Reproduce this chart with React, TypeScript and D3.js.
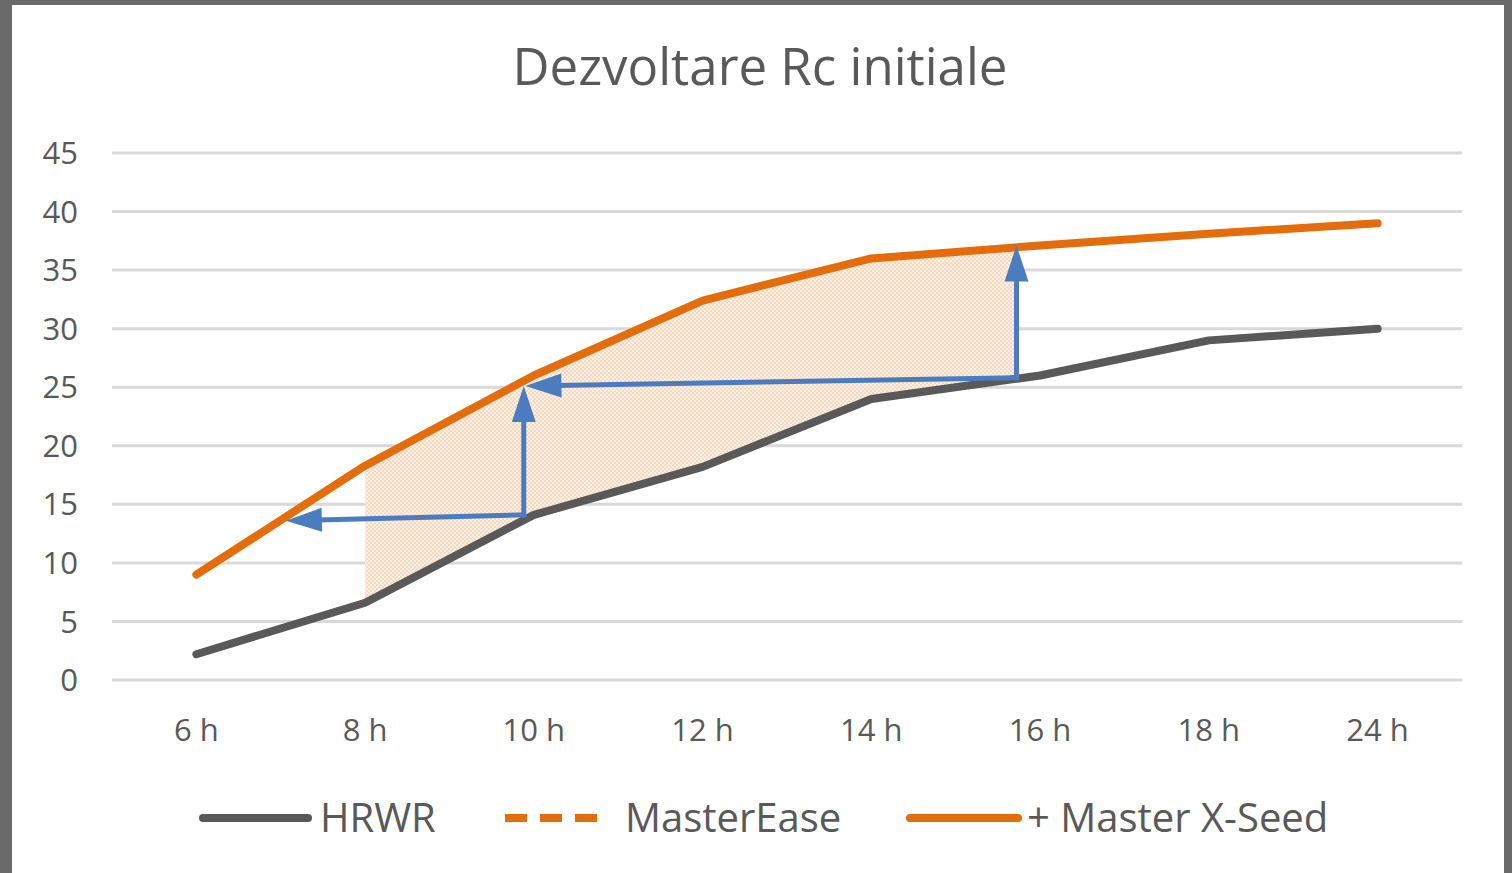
import React from 'react';
import * as d3 from 'd3';

// values
const categories = ['6 h', '8 h', '10 h', '12 h', '14 h', '16 h', '18 h', '24 h'];
const hrwr = [2.2, 6.6, 14.1, 18.2, 24.0, 26.0, 29.0, 30.0];
const xseed = [9.0, 18.3, 26.0, 32.4, 36.0, 37.1, 38.1, 39.0];
const yTicks = [0, 5, 10, 15, 20, 25, 30, 35, 40, 45];

// shaded band between the two curves, in category-index units
const bandStart = 1;
const bandEnd = 4.86;

// blue annotation arrows: [fromIndex, fromValue, toIndex, toValue]
const arrows = [
  [1.94, 14.1, 0.53, 13.6],
  [1.94, 14.1, 1.94, 25.1],
  [4.86, 25.8, 1.95, 25.1],
  [4.86, 25.8, 4.86, 37.1],
];

const legendItems = [
  { label: 'HRWR', color: '#595959', dash: '' },
  { label: 'MasterEase', color: '#e46c0a', dash: '22 13' },
  { label: '+ Master X-Seed', color: '#e46c0a', dash: '' },
];

const W = 1512;
const H = 873;
const FONT = '"Open Sans", "Noto Sans", sans-serif';
const TEXT = '#595959';
const BLUE = '#4a7cbf';

// linear interpolation along a series at a fractional index
const valueAt = (s, t) => {
  const i = Math.min(Math.floor(t), s.length - 2);
  return s[i] + (s[i + 1] - s[i]) * (t - i);
};

export default function App() {
  const x = d3.scalePoint().domain(categories).range([112, 1462]).padding(0.5);
  const xi = d3.scaleLinear().domain([0, categories.length - 1])
    .range([x(categories[0]), x(categories[categories.length - 1])]);
  const y = d3.scaleLinear().domain([0, 45]).range([680, 153]);

  const line = d3.line().x((d, i) => xi(i)).y(d => y(d));

  const bandIdx = [bandStart];
  for (let i = Math.ceil(bandStart + 1e-6); i < bandEnd; i++) bandIdx.push(i);
  bandIdx.push(bandEnd);
  const area = d3.area()
    .x(t => xi(t))
    .y0(t => y(valueAt(hrwr, t)))
    .y1(t => y(valueAt(xseed, t)));

  const headLen = 36;
  const headHalf = 12;

  const legendPos = [
    { x1: 203, x2: 308, tx: 320 },
    { x1: 505, x2: 602, tx: 625 },
    { x1: 910, x2: 1018, tx: 1027 },
  ];

  return (
    <svg width={W} height={H} style={{ display: 'block' }}>
      <style>{`body{margin:0}`}</style>
      <defs>
        <pattern id="dots" width="4" height="4" patternUnits="userSpaceOnUse">
          <rect width="4" height="4" fill="#fdf0e5" />
          <circle cx="1" cy="1" r="0.85" fill="#f5c29a" />
          <circle cx="3" cy="3" r="0.85" fill="#f5c29a" />
        </pattern>
      </defs>
      <rect width={W} height={H} fill="#6a6a6a" />
      <rect x={12} y={5} width={1492} height={H - 5} fill="#ffffff" />

      <text x={760} y={85} textAnchor="middle" fontFamily={FONT} fontSize={51} fill={TEXT}>
        Dezvoltare Rc initiale
      </text>

      {yTicks.map(t => (
        <g key={t}>
          <line x1={112} x2={1462} y1={y(t)} y2={y(t)} stroke="#d9d9d9" strokeWidth={3} />
          <text x={78} y={y(t)} dy="0.36em" textAnchor="end" fontFamily={FONT} fontSize={31} fill={TEXT}>
            {t}
          </text>
        </g>
      ))}

      {categories.map(c => (
        <text key={c} x={x(c)} y={741} textAnchor="middle" fontFamily={FONT} fontSize={31} fill={TEXT}>
          {c}
        </text>
      ))}

      <path d={area(bandIdx)} fill="url(#dots)" />

      <path d={line(hrwr)} fill="none" stroke="#595959" strokeWidth={8} strokeLinecap="round" strokeLinejoin="round" />
      <path d={line(xseed)} fill="none" stroke="#e46c0a" strokeWidth={8} strokeLinecap="round" strokeLinejoin="round" />

      {arrows.map(([fi, fv, ti, tv], k) => {
        const x0 = xi(fi), y0 = y(fv), x1 = xi(ti), y1 = y(tv);
        const len = Math.hypot(x1 - x0, y1 - y0);
        const ux = (x1 - x0) / len, uy = (y1 - y0) / len;
        const bx = x1 - ux * headLen, by = y1 - uy * headLen;
        const pts = [
          [x1, y1],
          [bx - uy * headHalf, by + ux * headHalf],
          [bx + uy * headHalf, by - ux * headHalf],
        ];
        return (
          <g key={k}>
            <line x1={x0} y1={y0} x2={bx + ux * 2} y2={by + uy * 2} stroke={BLUE} strokeWidth={5} strokeLinecap="square" />
            <polygon points={pts.map(p => p.join(',')).join(' ')} fill={BLUE} />
          </g>
        );
      })}

      {legendItems.map((d, i) => (
        <g key={d.label}>
          <line x1={legendPos[i].x1} x2={legendPos[i].x2} y1={818} y2={818} stroke={d.color} strokeWidth={8}
            strokeDasharray={d.dash || undefined} strokeLinecap={d.dash ? 'butt' : 'round'} />
          <text x={legendPos[i].tx} y={832} fontFamily={FONT} fontSize={40} fill={TEXT}>{d.label}</text>
        </g>
      ))}
    </svg>
  );
}
